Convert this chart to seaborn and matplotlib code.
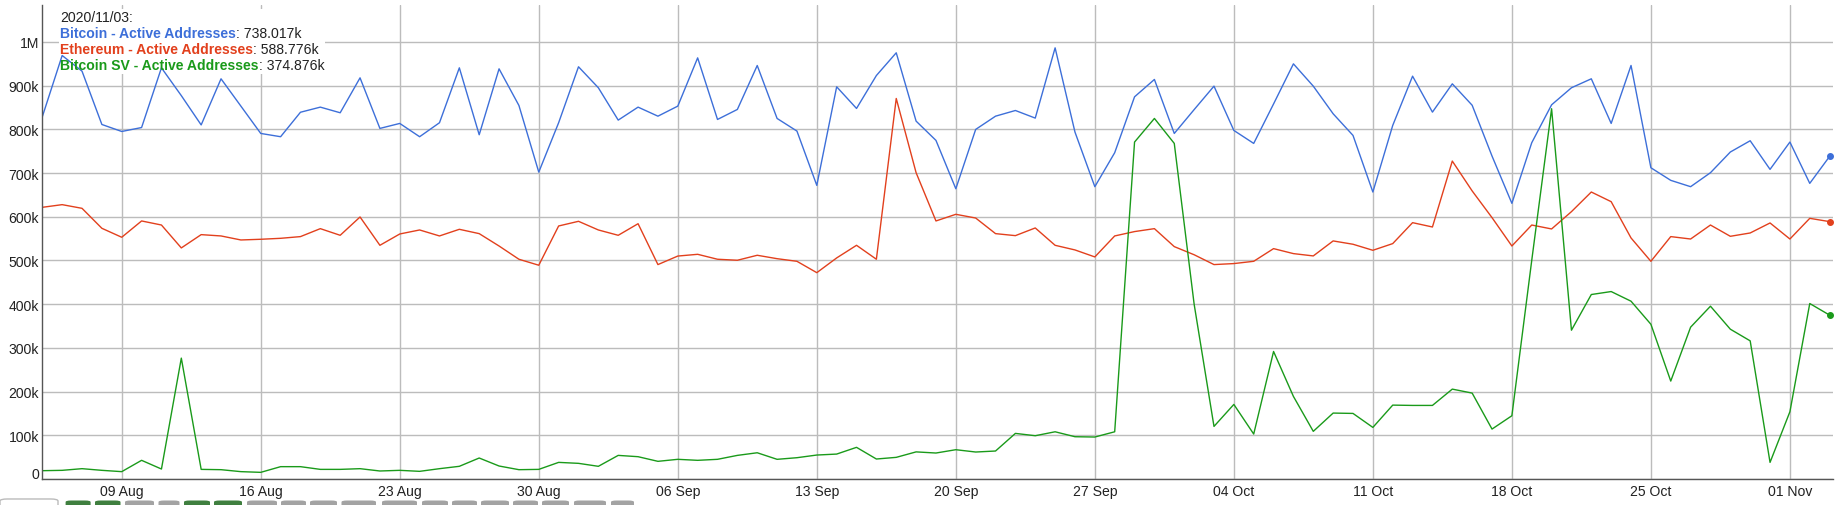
import matplotlib
matplotlib.use('Agg')
import matplotlib.dates as mdates
import matplotlib.pyplot as plt
from matplotlib.patches import Rectangle, FancyBboxPatch
from matplotlib.ticker import FuncFormatter, MultipleLocator
import numpy as np
import pandas as pd
import seaborn as sns

# Daily values, thousands of active addresses, 2020-08-05 .. 2020-11-03
dates = pd.date_range('2020-08-05', '2020-11-03', freq='D')

btc = [828.6, 968.8, 933, 811, 795, 804, 940.6, 877, 810, 915.5,
       853, 790.5, 783, 839, 850.7, 837.8, 917.7, 802, 813.4, 783,
       815, 940.6, 787.5, 938.3, 854.5, 702, 815, 943, 895, 821,
       850.7, 830, 853, 963.4, 822.5, 845.4, 945.9, 824.8, 795.9, 671.7,
       897.2, 847.7, 923, 975, 818.7, 774.6, 664, 799.7, 830, 843,
       825.6, 986.3, 793.6, 668.7, 746.4, 874.3, 914, 790.5, 845, 898.7,
       797.4, 767.7, 858, 949.7, 898.7, 835.5, 786, 656.5, 808.8, 921.5,
       839.3, 904, 855, 738.8, 630.6, 769.2, 856, 895, 915.5, 813.4,
       946, 712, 683.2, 668.7, 700.7, 748, 773.8, 708.3, 770.8, 676.3,
       738.017]

eth = [621.5, 627.6, 619.2, 573.5, 553, 590.3, 581, 528.6, 559, 556,
       546.8, 548.4, 550.6, 554.5, 572.7, 557.5, 599.4, 534.6, 560.5, 569.7,
       556, 571.2, 561.3, 533, 502.7, 489, 578.8, 589.5, 569.7, 557.5,
       584, 490.5, 510, 514, 502.7, 500.4, 511.8, 504, 498, 472,
       505.7, 534.6, 502.7, 870.5, 700.7, 590.3, 605.5, 597, 561.3, 556.7,
       574.3, 534.6, 524, 508, 556, 566, 572.7, 531.6, 513, 490.5,
       492.8, 498, 527, 515.6, 510.3, 544.6, 537, 523.2, 538.5, 586.4,
       576.5, 727.3, 659, 597.9, 533, 581, 572, 611.6, 656.5, 634.4,
       551.4, 498, 554.5, 549, 581, 555.2, 562.8, 585.7, 549, 596.3,
       588.776]

bsv = [19, 19.8, 23.6, 19.8, 16.8, 42.7, 22.8, 276.5, 22, 21.3,
       16.8, 15.2, 28.2, 28.2, 22, 22, 23.6, 18.3, 19.8, 17.5,
       23.6, 29, 48, 29.7, 21.3, 22, 38, 35.8, 29, 54,
       51, 40.4, 45, 42.7, 45, 54, 60, 45, 48.7, 54.8,
       57, 72.4, 45.7, 49.5, 62, 59.4, 67, 61.7, 64, 104.3,
       99, 108, 96.7, 96, 108, 770.8, 824.8, 767.7, 400, 120.3,
       170.6, 102.8, 291.7, 188.9, 109, 150.8, 150, 118, 169, 168.3,
       168.3, 205.6, 196.5, 114.2, 144.7, 500, 847, 340.4, 422, 428.8,
       406.7, 354, 224, 347.3, 395.3, 342.7, 316, 38, 153.8, 401.4,
       374.876]

series_names = ['Bitcoin - Active Addresses', 'Ethereum - Active Addresses',
                'Bitcoin SV - Active Addresses']
last_values = ['738.017k', '588.776k', '374.876k']
colors = ['#3d6fd9', '#e2401d', '#1a9a1a']

df = pd.DataFrame({
    'date': np.tile(dates, 3),
    'value': np.concatenate([btc, eth, bsv]) * 1000,
    'series': np.repeat(series_names, len(dates)),
})

sns.set_style('white')
plt.rcParams['font.family'] = ['Liberation Sans', 'DejaVu Sans']
FS = 10.08

fig = plt.figure(figsize=(18.39, 5.06), dpi=100)
ax = fig.add_axes([0.0230, 0.0514, 0.9737, 0.9368])

sns.lineplot(data=df, x='date', y='value', hue='series', hue_order=series_names,
             palette=colors, linewidth=1.0, legend=False, ax=ax, zorder=2)

# highlight dots at the last (hovered) point
for vals, c in zip([btc, eth, bsv], colors):
    ax.scatter([dates[-1]], [vals[-1] * 1000], s=16, color=c, zorder=3, clip_on=False)

ax.set_xlim(dates[0], dates[-1] + pd.Timedelta(hours=4))
ax.set_ylim(0, 1084400)

ax.xaxis.set_major_locator(mdates.WeekdayLocator(byweekday=mdates.SU))
ax.xaxis.set_major_formatter(mdates.DateFormatter('%d %b'))
ax.yaxis.set_major_locator(MultipleLocator(100000))


def fmt_k(v, pos):
    if v == 0:
        return ''
    if v >= 1e6:
        return f'{v / 1e6:g}M'
    return f'{v / 1e3:g}k'


ax.yaxis.set_major_formatter(FuncFormatter(fmt_k))
ax.annotate('0', xy=(0, 0), xycoords=('axes fraction', 'data'), xytext=(-3.5, 5),
            textcoords='offset pixels', ha='right', va='center', fontsize=FS, color='#222222')

ax.set_axisbelow(True)
ax.grid(True, color='#bcbcbc', linewidth=1.0)
ax.tick_params(length=0, labelsize=FS, colors='#222222')
ax.tick_params(axis='y', pad=2.5)
ax.tick_params(axis='x', pad=3.5)
for side in ['top', 'right']:
    ax.spines[side].set_visible(False)
for side in ['left', 'bottom']:
    ax.spines[side].set_color('#555555')
    ax.spines[side].set_linewidth(1.0)
ax.set_xlabel('')
ax.set_ylabel('')

# legend box (hides gridlines, lines drawn above)
ax.add_patch(Rectangle((0.0093, 0.8544), 0.1487, 0.1372, transform=ax.transAxes,
                       facecolor='white', edgecolor='none', zorder=1.5))


def legend_line(y_px, parts):
    prev = None
    for txt, color, weight in parts:
        if prev is None:
            prev = ax.text(60.3 / 1839 * 18.39 * 100, 0, txt, transform=None)
            prev.remove()
            prev = fig.text(60.3 / 1839, 1 - y_px / 506, txt, color=color,
                            fontweight=weight, fontsize=FS, va='center', ha='left')
        else:
            prev = fig.add_artist(plt.Annotation(txt, xy=(1, 0), xycoords=prev,
                                                 xytext=(0, 0), textcoords='offset points',
                                                 va='bottom', ha='left', color=color,
                                                 fontweight=weight, fontsize=FS))


legend_line(18.3, [('2020/11/03:', '#222222', 'normal')])
for i, (name, val, c) in enumerate(zip(series_names, last_values, colors)):
    legend_line(34 + 15.85 * i, [(name, c, 'bold'), (': ' + val, '#222222', 'normal')])

# cut-off y axis label at the far left
fig.text(4 / 1839, 1 - 255 / 506, 'Active Addresses', rotation=90, ha='right', va='center',
         fontsize=FS, color='#222222')

# range selector buttons peeking in at the bottom
fig.patches.append(FancyBboxPatch((0 / 1839, -0.02), 58 / 1839, 0.022 + 5 / 506,
                                  boxstyle='round,pad=0,rounding_size=0.004',
                                  transform=fig.transFigure, facecolor='white',
                                  edgecolor='#bbbbbb', linewidth=1.0))
buttons = [(65.6, 90.6, 'g'), (95, 120.5, 'g'), (125, 154, 'x'), (158.5, 179.5, 'x'),
           (184, 210, 'g'), (214, 242, 'g'), (247, 277, 'x'), (281, 306, 'x'),
           (310, 337, 'x'), (341.5, 376, 'x'), (382, 417, 'x'), (422, 448, 'x'),
           (452, 477, 'x'), (481, 509, 'x'), (513, 538, 'x'), (542, 569, 'x'),
           (574, 606, 'x'), (611, 634, 'x')]
for x0, x1, kind in buttons:
    fig.patches.append(FancyBboxPatch((x0 / 1839, -0.02), (x1 - x0) / 1839, 0.02 + 4.5 / 506,
                                      boxstyle='round,pad=0,rounding_size=0.003',
                                      transform=fig.transFigure,
                                      facecolor='#3f7f3f' if kind == 'g' else '#a3a3a3',
                                      edgecolor='none'))

fig.savefig('out.png', dpi=100)
